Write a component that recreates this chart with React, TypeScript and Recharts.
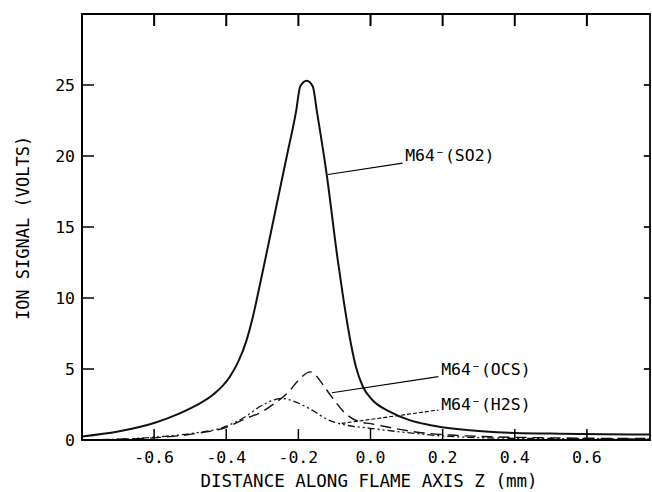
import { LineChart, Line, XAxis, YAxis, ReferenceLine, ReferenceDot, ReferenceArea } from 'recharts'

// distance along flame axis z (mm) and ion signal (volts)
const SO2_Z = [-0.8, -0.7, -0.6, -0.529, -0.482, -0.436, -0.39, -0.367, -0.344, -0.326, -0.307, -0.292, -0.26, -0.232, -0.206, -0.195, -0.177, -0.16, -0.149, -0.122, -0.091, -0.075, -0.053, -0.04, -0.021, 0.006, 0.053, 0.108, 0.163, 0.246, 0.35, 0.5, 0.775]
const SO2_V = [0.25, 0.6, 1.2, 1.88, 2.46, 3.2, 4.46, 5.5, 7.0, 8.7, 10.9, 12.7, 16.6, 20.0, 23.2, 24.9, 25.3, 24.9, 23.2, 18.8, 12.7, 9.9, 6.6, 5.1, 3.75, 2.8, 2.0, 1.4, 1.06, 0.75, 0.55, 0.45, 0.38]

const OCS_Z = [-0.8, -0.7, -0.6, -0.5, -0.4, -0.347, -0.3, -0.273, -0.227, -0.2, -0.167, -0.15, -0.135, -0.108, -0.07, -0.033, 0.0, 0.04, 0.13, 0.22, 0.35, 0.5, 0.775]
const OCS_V = [0.0, 0.05, 0.15, 0.4, 0.9, 1.5, 2.0, 2.46, 3.4, 4.2, 4.8, 4.5, 4.0, 3.05, 1.88, 1.3, 1.15, 0.95, 0.55, 0.35, 0.22, 0.15, 0.1]

const H2S_Z = [-0.8, -0.7, -0.6, -0.5, -0.4, -0.35, -0.3, -0.27, -0.245, -0.21, -0.162, -0.116, -0.07, 0.0, 0.09, 0.22, 0.4, 0.775]
const H2S_V = [0.0, 0.05, 0.2, 0.45, 0.97, 1.6, 2.45, 2.8, 2.93, 2.7, 2.1, 1.4, 1.06, 0.82, 0.55, 0.25, 0.12, 0.08]

const X_TICKS = [-0.6, -0.4, -0.2, 0.0, 0.2, 0.4, 0.6]
const X_TICK_LABELS = ['-0.6', '-0.4', '-0.2', '0.0', '0.2', '0.4', '0.6']
const Y_TICKS = [0, 5, 10, 15, 20, 25]
const Y_TICK_LABELS = ['0', '5', '10', '15', '20', '25']

// annotation leader lines: [from z, from v, to z, to v]
const SO2_LEADER = [-0.118, 18.7, 0.089, 19.5]
const OCS_LEADER = [-0.107, 3.33, 0.188, 4.46]
const H2S_LEADER = [-0.08, 1.17, 0.188, 2.11]
const LABELS = [
  { z: 0.096, v: 19.65, name: '(SO2)' },
  { z: 0.196, v: 4.55, name: '(OCS)' },
  { z: 0.196, v: 2.1, name: '(H2S)' },
]

const zip = (zs: number[], vs: number[]) => zs.map((z, i) => ({ z, v: vs[i] }))
const so2 = zip(SO2_Z, SO2_V)
const ocs = zip(OCS_Z, OCS_V)
const h2s = zip(H2S_Z, H2S_V)

const X_MIN = -0.8
const X_MAX = 0.775
const Y_MAX = 30
// inward frame ticks, in data units (top ~12px long, right ~6px long, ~2px thick)
const TOP_TICK_LEN = 0.85
const TOP_TICK_HALF = 0.0028
const RIGHT_TICK_LEN = 0.017
const RIGHT_TICK_HALF = 0.06

const FONT = '"DejaVu Sans Mono", monospace'
const INK = '#000'

const xLabel = (v: number) => X_TICK_LABELS[X_TICKS.indexOf(v)] ?? String(v)
const yLabel = (v: number) => Y_TICK_LABELS[Y_TICKS.indexOf(v)] ?? String(v)

function BottomTick({ x, y, payload }: any) {
  return (
    <g>
      <line x1={x} y1={y} x2={x} y2={y - 11} stroke={INK} strokeWidth={1.5} />
      <text x={x} y={y + 23} textAnchor="middle" fontFamily={FONT} fontSize={16.5} fill={INK}>
        {xLabel(payload.value)}
      </text>
    </g>
  )
}

function LeftTick({ x, y, payload }: any) {
  return (
    <g>
      {payload.value !== 0 && <line x1={x} y1={y} x2={x + 12} y2={y} stroke={INK} strokeWidth={1.5} />}
      <text x={x - 7} y={y} dy="0.36em" textAnchor="end" fontFamily={FONT} fontSize={16.5} fill={INK}>
        {yLabel(payload.value)}
      </text>
    </g>
  )
}

const xTitle = ({ viewBox }: any) => (
  <text
    x={viewBox.x + viewBox.width / 2 + 3}
    y={viewBox.y + 47}
    textAnchor="middle"
    fontFamily={FONT}
    fontSize={17.5}
    fill={INK}
  >
    DISTANCE ALONG FLAME AXIS Z (mm)
  </text>
)

const yTitle = ({ viewBox }: any) => {
  const cx = 23
  const cy = viewBox.y + viewBox.height / 2 + 1
  return (
    <text
      x={cx}
      y={cy}
      dy="0.36em"
      textAnchor="middle"
      transform={`rotate(-90 ${cx} ${cy})`}
      fontFamily={FONT}
      fontSize={17}
      fill={INK}
    >
      ION SIGNAL (VOLTS)
    </text>
  )
}

function segment(key: string, seg: number[], width = 1.1, dash?: string) {
  return (
    <ReferenceLine
      key={key}
      segment={[
        { x: seg[0], y: seg[1] },
        { x: seg[2], y: seg[3] },
      ]}
      stroke={INK}
      strokeWidth={width}
      strokeDasharray={dash}
      ifOverflow="visible"
    />
  )
}

export default function App() {
  return (
    <div style={{ position: 'absolute', left: 0, top: 0, background: '#fff' }}>
      <LineChart width={652} height={492} margin={{ top: 14, right: 2, bottom: 0, left: 0 }}>
        <XAxis
          type="number"
          dataKey="z"
          domain={[X_MIN, X_MAX]}
          ticks={X_TICKS}
          interval={0}
          allowDataOverflow
          height={52}
          tickSize={0}
          tickMargin={0}
          tickLine={false}
          tick={BottomTick}
          axisLine={{ stroke: INK, strokeWidth: 1.6 }}
          label={xTitle}
        />
        <YAxis
          type="number"
          domain={[0, Y_MAX]}
          ticks={Y_TICKS}
          interval={0}
          allowDataOverflow
          width={82}
          tickSize={0}
          tickMargin={0}
          tickLine={false}
          tick={LeftTick}
          axisLine={{ stroke: INK, strokeWidth: 2 }}
          label={yTitle}
        />
        {/* frame box */}
        <ReferenceArea x1={X_MIN} x2={X_MAX} y1={0} y2={Y_MAX} fill="none" fillOpacity={0} stroke={INK} strokeWidth={1.8} ifOverflow="visible" />
        {X_TICKS.map((t) => (
          <ReferenceArea
            key={`tt${t}`}
            x1={t - TOP_TICK_HALF}
            x2={t + TOP_TICK_HALF}
            y1={Y_MAX - TOP_TICK_LEN}
            y2={Y_MAX}
            fill={INK}
            fillOpacity={1}
            stroke="none"
            ifOverflow="visible"
          />
        ))}
        {Y_TICKS.filter((t) => t > 0).map((t) => (
          <ReferenceArea
            key={`rt${t}`}
            x1={X_MAX - RIGHT_TICK_LEN}
            x2={X_MAX}
            y1={t - RIGHT_TICK_HALF}
            y2={t + RIGHT_TICK_HALF}
            fill={INK}
            fillOpacity={1}
            stroke="none"
            ifOverflow="visible"
          />
        ))}
        <Line data={so2} dataKey="v" type="monotone" stroke="#111" strokeWidth={2} dot={false} isAnimationActive={false} />
        <Line data={ocs} dataKey="v" type="monotone" stroke="#111" strokeWidth={1.4} strokeDasharray="11 6" dot={false} isAnimationActive={false} />
        <Line data={h2s} dataKey="v" type="monotone" stroke="#111" strokeWidth={1.3} strokeDasharray="7 3 2 3 2 3" dot={false} isAnimationActive={false} />
        {segment('l1', SO2_LEADER)}
        {segment('l2', OCS_LEADER)}
        {segment('l3', H2S_LEADER, 1.1, '4 2')}
        {LABELS.map((l) => (
          <ReferenceDot
            key={l.name}
            x={l.z}
            y={l.v}
            r={0}
            shape={(p: any) => (
              <text x={p.cx} y={p.cy} fontFamily={FONT} fontSize={16.5} fill={INK}>
                M64<tspan>⁻</tspan>{l.name}
              </text>
            )}
          />
        ))}
      </LineChart>
    </div>
  )
}
